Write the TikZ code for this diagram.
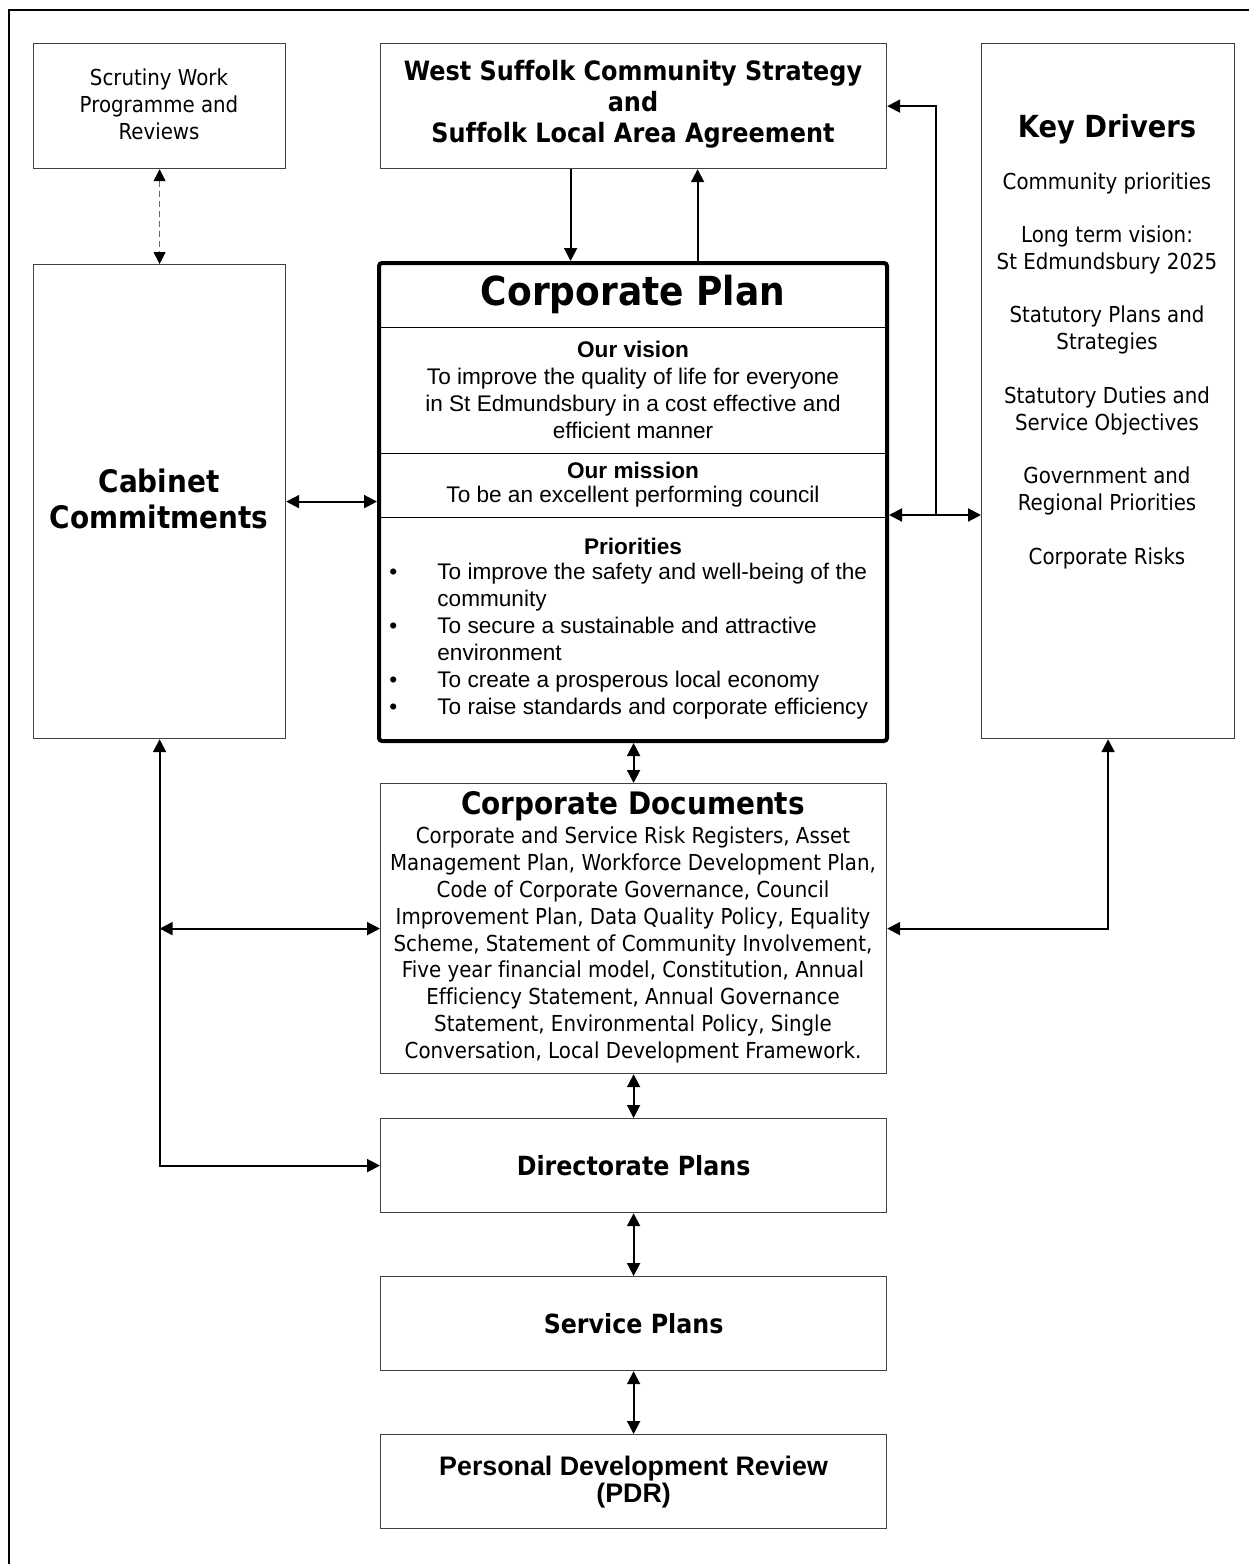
\documentclass[tikz,border=0pt]{standalone}
\usepackage{fontspec}
\setmainfont{Liberation Sans}
\newfontfamily\tahoma[FakeStretch=0.9, Ligatures=NoCommon]{DejaVu Sans}
\newfontfamily\arial{Liberation Sans}
\usepackage{tikz}
\usetikzlibrary{positioning, calc, arrows.meta}
\newcommand{\fsz}[2]{\fontsize{#1}{#2}\selectfont}
\tikzset{frame/.style={draw=black!75, line width=0.6pt, inner sep=0pt, anchor=north west}}
\tikzset{txt/.style={font=\tahoma\fsz{11}{13.5}, align=center, inner sep=0pt}}
\tikzset{arr/.style={-{Triangle[length=6.5pt,width=6.5pt]}, line width=1pt}}
\tikzset{dbl/.style={{Triangle[length=6.5pt,width=6.5pt]}-{Triangle[length=6.5pt,width=6.5pt]}, line width=1pt}}

\begin{document}
\begin{tikzpicture}[x=0.5pt, y=-0.5pt]

      \useasboundingbox (0,0) rectangle (1248,1564);
      \draw[line width=1pt] (1260,10) -- (9,10) -- (9,1580);

      % BOXES

      \node[frame, minimum width=126pt, minimum height=62.5pt] (scrutiny) at (33,43) {};
      \node[frame, minimum width=126pt, minimum height=237pt] (cabinet) at (33,264) {};
      \node[frame, minimum width=253pt, minimum height=62.5pt] (westsuffolk) at (380,43) {};
      \node[frame, minimum width=126.5pt, minimum height=347.5pt] (keydrivers) at (981,43) {};
      \node[frame, line width=2pt, draw=black, rounded corners=1.5pt, minimum width=254pt, minimum height=239pt] (corpplan) at (377,261) {};
      \node[frame, minimum width=253pt, minimum height=145pt] (corpdocs) at (380,783) {};
      \node[frame, minimum width=253pt, minimum height=47pt] (directorate) at (380,1118) {};
      \node[frame, minimum width=253pt, minimum height=47pt] (service) at (380,1276) {};
      \node[frame, minimum width=253pt, minimum height=47pt] (pdr) at (380,1434) {};

      \draw[line width=0.5pt] (corpplan.west |- 0,327) -- (corpplan.east |- 0,327);
      \draw[line width=0.5pt] (corpplan.west |- 0,453) -- (corpplan.east |- 0,453);
      \draw[line width=0.5pt] (corpplan.west |- 0,517) -- (corpplan.east |- 0,517);

      % LABELS

      \node[txt] (scrutinytxt) at (159,104) {Scrutiny Work\\Programme and\\Reviews};
      \node[txt, font=\tahoma\bfseries\fsz{13.3}{15.5}] (westsuffolktxt) at (633,104)
        {West Suffolk Community Strategy\\and\\Suffolk Local Area Agreement};
      \node[txt, font=\tahoma\bfseries\fsz{15.5}{18}] (cabinettxt) at (159,499) {Cabinet\\Commitments};

      \node[txt, font=\tahoma\bfseries\fsz{15.2}{18}] (kdtitle) at (1107,129) {Key Drivers};
      \node[txt] (kd1) at (1107,183) {Community priorities};
      \node[txt] (kd2) at (1107,250) {Long term vision:\\St Edmundsbury 2025};
      \node[txt] (kd3) at (1107,330) {Statutory Plans and\\Strategies};
      \node[txt] (kd4) at (1107,411) {Statutory Duties and\\Service Objectives};
      \node[txt] (kd5) at (1107,491) {Government and\\Regional Priorities};
      \node[txt] (kd6) at (1107,558) {Corporate Risks};

      \node[txt, font=\tahoma\bfseries\fsz{20}{24}] (cptitle) at (633,294) {Corporate Plan};
      \node[txt, font=\arial\bfseries\fsz{11.3}{13.5}] (visionhead) at (633,349) {Our vision};
      \node[txt, font=\arial\fsz{11.3}{13.5}] (visiontxt) at (633,403)
        {To improve the quality of life for everyone\\in St Edmundsbury in a cost effective and\\efficient manner};
      \node[txt, font=\arial\bfseries\fsz{11.3}{13.5}] (missionhead) at (633,470) {Our mission};
      \node[txt, font=\arial\fsz{11.3}{13.5}] (missiontxt) at (633,497) {To be an excellent performing council};
      \node[txt, font=\arial\bfseries\fsz{11.3}{13.5}] (prihead) at (633,546) {Priorities};

      \node[txt, font=\arial\fsz{11.3}{13.5}, align=left, anchor=north west] (prilist) at (389,560) {%
        \begin{tabular}{@{}p{24pt}@{}l@{}}
          • & To improve the safety and well-being of the \\
            & community \\
          • & To secure a sustainable and attractive \\
            & environment \\
          • & To create a prosperous local economy \\
          • & To raise standards and corporate efficiency \\
        \end{tabular}};

      \node[txt, font=\tahoma\bfseries\fsz{15.5}{17}] (cdtitle) at (633,806) {Corporate Documents};
      \node[txt, font=\tahoma\fsz{11}{13.4}] (cdtxt) at (633,945)
        {Corporate and Service Risk Registers, Asset\\Management Plan, Workforce Development Plan,\\Code of Corporate Governance, Council\\Improvement Plan, Data Quality Policy, Equality\\Scheme, Statement of Community Involvement,\\Five year financial model, Constitution, Annual\\Efficiency Statement, Annual Governance\\Statement, Environmental Policy, Single\\Conversation, Local Development Framework.};

      \node[txt, font=\tahoma\bfseries\fsz{13.2}{15}] (directoratetxt) at (directorate) {Directorate Plans};
      \node[txt, font=\tahoma\bfseries\fsz{13.2}{15}] (servicetxt) at (service) {Service Plans};
      \node[txt, font=\arial\bfseries\fsz{13.4}{13.5}] (pdrtxt) at (pdr) {Personal Development Review\\(PDR)};

      % ARCS

      \draw[line width=0.5pt, densely dashed, black!60, {Triangle[length=6pt,width=6pt,black]}-{Triangle[length=6pt,width=6pt,black]}]
        (scrutiny.south) -- (cabinet.north);

      \coordinate (wsdown) at ($(westsuffolk.south)-(63,0)$);
      \coordinate (wsup) at ($(westsuffolk.south)+(64,0)$);
      \draw[arr] (wsdown) -- (wsdown |- corpplan.north);
      \draw[arr] (wsup |- corpplan.north) -- (wsup);
      \draw[dbl] (cabinet.east) -- (cabinet.east -| corpplan.west);

      \coordinate (cpright) at ($(corpplan.east)+(0,13)$);
      \draw[dbl] (cpright) -- (cpright -| keydrivers.west);
      \draw[arr] ($(cpright)+(47,0)$) |- (westsuffolk.east);

      \draw[dbl] (corpdocs.north |- corpplan.south) -- (corpdocs.north);
      \draw[dbl] (corpdocs.south) -- (directorate.north);
      \draw[dbl] (directorate.south) -- (service.north);
      \draw[dbl] (service.south) -- (pdr.north);

      \draw[dbl] (cabinet.south) |- (directorate.west);
      \draw[dbl] (corpdocs.west -| cabinet.south) -- (corpdocs.west);
      \draw[dbl] (corpdocs.east) -| (keydrivers.south);

\end{tikzpicture}
\end{document}
